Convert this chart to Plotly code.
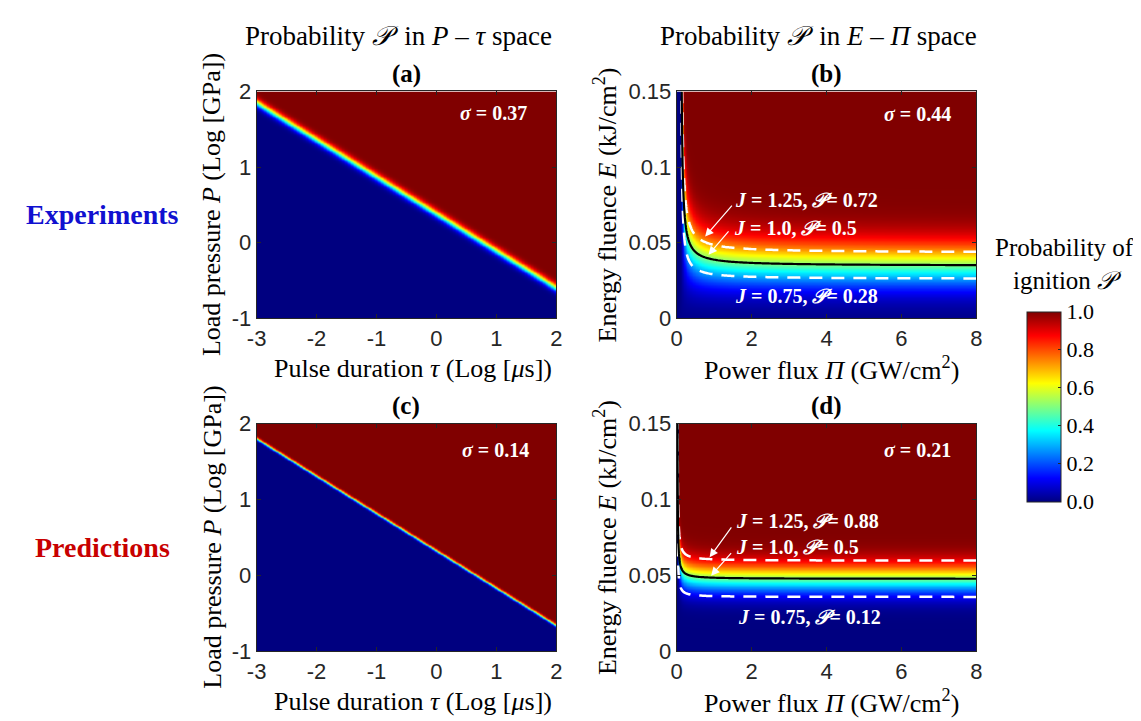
import math
import numpy as np
import plotly.graph_objects as go

# ---------------- values ----------------
tau_ticks = [-3, -2, -1, 0, 1, 2]
tau_ticktext = ["-3", "-2", "-1", "0", "1", "2"]
P_ticks = [-1, 0, 1, 2]
P_ticktext = ["-1", "0", "1", "2"]
Pi_ticks = [0, 2, 4, 6, 8]
E_ticks = [0, 0.05, 0.1, 0.15]
E_ticktext = ["0", "0.05", "0.1", "0.15"]
cbar_ticks = [0, 0.2, 0.4, 0.6, 0.8, 1.0]
cbar_ticktext = ["0.0", "0.2", "0.4", "0.6", "0.8", "1.0"]

panel_names = ["(a)", "(b)", "(c)", "(d)"]
sigmas = [0.37, 0.44, 0.14, 0.21]          # a, b, c, d
# 50 % boundary in the P-tau panels: log P at tau = -3 and tau = 2
boundary_a = [1.85, -0.60]
boundary_c = [1.80, -0.66]
band_a = 0.055                            # transition width (log units)
band_c = 0.020
# E-Pi panels: fluence of the J = 1 line at large Pi, and the Pi where it turns vertical
E_inf = [0.0347, 0.0477]                  # b, d
Pi_pole = [0.105, 0.016]                  # b, d
J_levels = [0.75, 1.0, 1.25]
prob_b = [0.28, 0.5, 0.72]
prob_d = [0.12, 0.5, 0.88]

# ---------------- helpers ----------------
_erf = np.vectorize(math.erf)


def Phi(x):
    return 0.5 * (1.0 + _erf(x / math.sqrt(2.0)))


W, H = 1141, 721
def px(x):
    return x / W
def py(y):
    return 1 - y / H

# plot-area geometry (pixels)
colL = (242, 546)
colR = (668, 972)
rowT = (74, 309)
rowB = (418, 654)

serif = "Liberation Serif, Times New Roman, DejaVu Serif, serif"
sans = "Liberation Sans, Arial, sans-serif"
tick_col = "#262626"

jet = [[0.0, "#000080"], [0.125, "#0000ff"], [0.375, "#00ffff"],
       [0.625, "#ffff00"], [0.875, "#ff0000"], [1.0, "#800000"]]

fig = go.Figure()

# ---- P-tau panels ----
tau = np.linspace(-3, 2, 401)
logP = np.linspace(-1, 2, 481)
T, LP = np.meshgrid(tau, logP)
for (bnd, band, xa, ya) in [(boundary_a, band_a, "x", "y"), (boundary_c, band_c, "x3", "y3")]:
    line = bnd[0] + (T + 3) * (bnd[1] - bnd[0]) / 5.0
    z = np.round(Phi((LP - line) / band), 3)
    fig.add_trace(go.Heatmap(x=tau, y=logP, z=z, coloraxis="coloraxis",
                             zsmooth="best", xaxis=xa, yaxis=ya, hoverinfo="skip"))

# ---- E-Pi panels ----
Pi = np.linspace(0, 8, 401)
E = np.linspace(0, 0.15, 301)
PP, EE = np.meshgrid(Pi, E)
Pi_c = np.unique(np.concatenate([np.linspace(1e-3, 0.6, 400), np.linspace(0.6, 8.0, 150)]))
E_c = np.linspace(0, 0.15, 301)
PPc, EEc = np.meshgrid(Pi_c, E_c)
for k, (xa, ya) in enumerate([("x2", "y2"), ("x4", "y4")]):
    sig = sigmas[1] if k == 0 else sigmas[3]
    J = EE * (1 - Pi_pole[k] / np.maximum(PP, 1e-6)) / E_inf[k]
    z = np.round(Phi((J - 1.0) / sig), 3)
    fig.add_trace(go.Heatmap(x=Pi, y=E, z=z, coloraxis="coloraxis",
                             zsmooth="best", xaxis=xa, yaxis=ya, hoverinfo="skip"))
    Jc = EEc * (1 - Pi_pole[k] / PPc) / E_inf[k]
    Jc = np.round(np.maximum(Jc, -5), 5)
    fig.add_trace(go.Contour(x=Pi_c, y=E_c, z=Jc, showscale=False, hoverinfo="skip",
                             contours=dict(coloring="none", start=J_levels[0], end=J_levels[2],
                                           size=J_levels[2] - J_levels[0]),
                             line=dict(color="white", width=2.5, dash="13px,9px"),
                             xaxis=xa, yaxis=ya))
    fig.add_trace(go.Contour(x=Pi_c, y=E_c, z=Jc, showscale=False, hoverinfo="skip",
                             contours=dict(coloring="none", start=J_levels[1], end=J_levels[1], size=1),
                             line=dict(color="black", width=2.2),
                             xaxis=xa, yaxis=ya))

# ---- axes ----
def ax_style(rng, tickvals, ticktext=None, domain=None, anchor=None):
    d = dict(range=rng, domain=domain, anchor=anchor, tickvals=tickvals,
             ticks="inside", ticklen=4, tickcolor=tick_col, showline=True,
             linecolor=tick_col, linewidth=1, mirror="ticks", showgrid=False,
             zeroline=False, tickfont=dict(family=sans, size=22, color=tick_col))
    if ticktext is not None:
        d["ticktext"] = ticktext
    return d

layout_axes = dict(
    xaxis=ax_style([-3, 2], tau_ticks, tau_ticktext, domain=[px(colL[0]), px(colL[1])], anchor="y"),
    yaxis=ax_style([-1, 2], P_ticks, P_ticktext, domain=[py(rowT[1]), py(rowT[0])], anchor="x"),
    xaxis2=ax_style([0, 8], Pi_ticks, domain=[px(colR[0]), px(colR[1])], anchor="y2"),
    yaxis2=ax_style([0, 0.15], E_ticks, E_ticktext, domain=[py(rowT[1]), py(rowT[0])], anchor="x2"),
    xaxis3=ax_style([-3, 2], tau_ticks, tau_ticktext, domain=[px(colL[0]), px(colL[1])], anchor="y3"),
    yaxis3=ax_style([-1, 2], P_ticks, P_ticktext, domain=[py(rowB[1]), py(rowB[0])], anchor="x3"),
    xaxis4=ax_style([0, 8], Pi_ticks, domain=[px(colR[0]), px(colR[1])], anchor="y4"),
    yaxis4=ax_style([0, 0.15], E_ticks, E_ticktext, domain=[py(rowB[1]), py(rowB[0])], anchor="x4"),
)

ann = []
def text(x, y, s, size, color="black", xanchor="center", angle=0, family=serif, **kw):
    d = dict(x=x, y=y, xref="paper", yref="paper", text=s, showarrow=False,
             xanchor=xanchor, yanchor="middle", textangle=angle,
             font=dict(family=family, size=size, color=color))
    d.update(kw)
    ann.append(d)

# column headers
text(px(386), py(17), "Probability <i>𝒫</i>&nbsp; in <i>P</i> – <i>τ</i> space", 27)
text(px(812), py(17), "Probability <i>𝒫</i>&nbsp; in <i>E</i> – <i>Π</i> space", 27)
# panel letters
for name, cx, ty in [(panel_names[0], 394, 56), (panel_names[1], 820, 56),
                     (panel_names[2], 394, 400), (panel_names[3], 820, 400)]:
    text(px(cx), py(ty), "<b>" + name + "</b>", 25)
# row labels
text(px(86), py(202), "<b>Experiments</b>", 28, color="#1010d0")
text(px(86), py(546), "<b>Predictions</b>", 28, color="#c80000")
# axis titles
for cy0, cy1 in [rowT, rowB]:
    text(px(197), py((cy0 + cy1) / 2), "Load pressure <i>P</i> (Log [GPa])", 26, angle=-90)
    text(px(596), py((cy0 + cy1) / 2), "Energy fluence <i>E</i> (kJ/cm<sup>2</sup>)", 26, angle=-90)
    text(px(401), py(cy1 + 52), "Pulse duration <i>τ</i> (Log [<i>μ</i>s])", 26)
    text(px(825), py(cy1 + 52), "Power flux <i>Π</i> (GW/cm<sup>2</sup>)", 26)
# colorbar title
text(px(1061), py(253), "Probability of<br>ignition <i>𝒫</i>", 25)

# sigma labels
for k, (xa, ya, yy) in enumerate([("x", "y", 0.903), ("x2", "y2", 0.90),
                                  ("x3", "y3", 0.885), ("x4", "y4", 0.885)]):
    xx = [0.908, 0.921, 0.914, 0.921][k]
    ann.append(dict(x=xx, y=yy, xref=xa + " domain", yref=ya + " domain",
                    text="<b><i>σ</i> = %.2f</b>" % sigmas[k], showarrow=False,
                    xanchor="right", yanchor="middle",
                    font=dict(family=serif, size=20, color="white")))

# J labels and arrows
jlab = {
    "b": dict(xa="x2", ya="y2", probs=prob_b,
              pos=[(1.51, 0.0149), (1.47, 0.0600), (1.51, 0.0780)],
              arrows=[((0.85, 0.042), (1.42, 0.0585)), ((0.76, 0.054), (1.51, 0.0755))]),
    "d": dict(xa="x4", ya="y4", probs=prob_d,
              pos=[(1.58, 0.0229), (1.53, 0.0684), (1.53, 0.0858)],
              arrows=[((0.92, 0.0498), (1.49, 0.0657)), ((0.88, 0.0619), (1.49, 0.0826))]),
}
for key, d in jlab.items():
    for i, J in enumerate(J_levels):
        ann.append(dict(x=d["pos"][i][0], y=d["pos"][i][1], xref=d["xa"], yref=d["ya"],
                        text="<b><i>J</i> = %s, <i>𝒫</i>= %s</b>" % (J, d["probs"][i]),
                        showarrow=False, xanchor="left", yanchor="middle",
                        font=dict(family=serif, size=20, color="white")))
    for tip, tail in d["arrows"]:
        ann.append(dict(x=tip[0], y=tip[1], xref=d["xa"], yref=d["ya"],
                        ax=tail[0], ay=tail[1], axref=d["xa"], ayref=d["ya"],
                        text="", showarrow=True, arrowhead=2, arrowsize=1.4,
                        arrowwidth=1.2, arrowcolor="white"))

fig.update_layout(
    width=W, height=H, margin=dict(l=0, r=0, t=0, b=0),
    paper_bgcolor="white", plot_bgcolor="white", showlegend=False,
    coloraxis=dict(colorscale=jet, cmin=0, cmax=1,
                   colorbar=dict(x=px(1023), xanchor="left", xpad=0, ypad=0,
                                 y=py(499), yanchor="bottom", len=(499 - 302) / H,
                                 lenmode="fraction", thickness=34, thicknessmode="pixels",
                                 outlinewidth=1, outlinecolor=tick_col,
                                 tickvals=cbar_ticks, ticktext=cbar_ticktext,
                                 ticks="inside", ticklen=3, tickcolor=tick_col,
                                 tickfont=dict(family=serif, size=22, color="black"))),
    annotations=ann,
    **layout_axes,
)

fig.write_html("out.html")
